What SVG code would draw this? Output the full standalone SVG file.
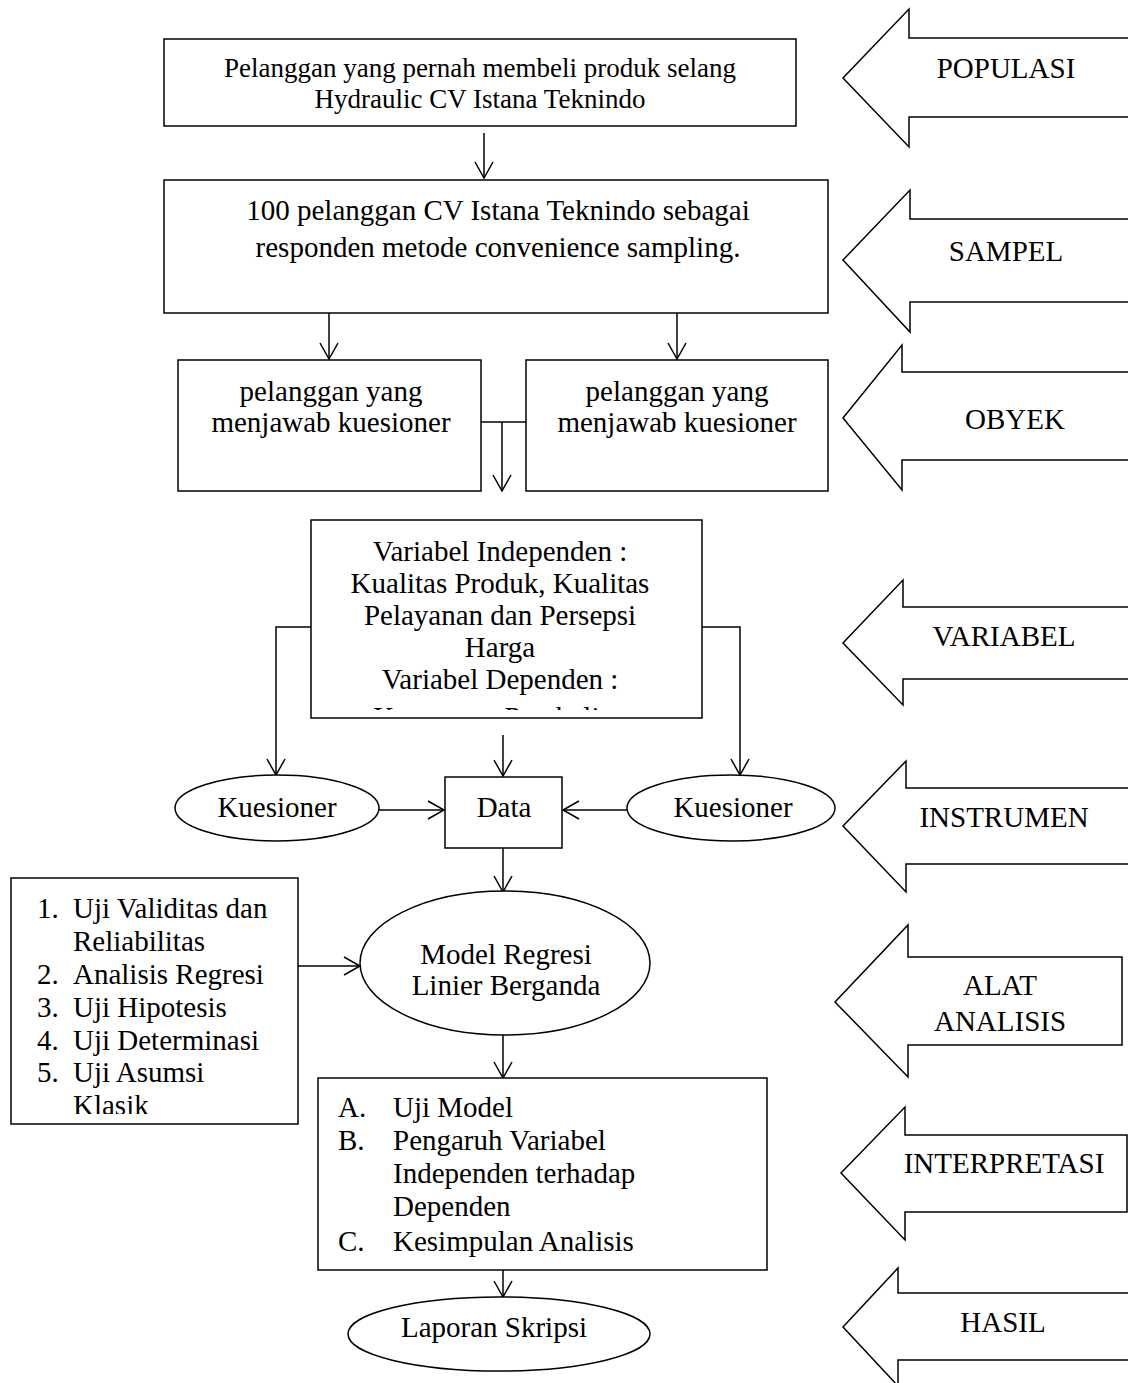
<svg xmlns="http://www.w3.org/2000/svg" width="1128" height="1383" viewBox="0 0 1128 1383">
<style>
.b{fill:#fff;stroke:#000;stroke-width:1.5}
.t{font-family:"Liberation Serif","Times New Roman",serif;font-size:29px;fill:#000}
.c{text-anchor:middle}
.ln{fill:none;stroke:#000;stroke-width:1.5}
.ar{marker-end:url(#ah)}
</style>
<defs>
<marker id="ah" markerUnits="userSpaceOnUse" markerWidth="24" markerHeight="24" viewBox="-20 -12 24 24" refX="0" refY="0" orient="auto" overflow="visible">
<path d="M-16,-9 L0,0 L-16,9" fill="none" stroke="#000" stroke-width="1.5"/>
</marker>
<clipPath id="clipVar"><rect x="312" y="521" width="390" height="189"/></clipPath>
<clipPath id="clipList"><rect x="12" y="879" width="285" height="235"/></clipPath>
</defs>
<rect width="1128" height="1383" fill="#fff"/>

<g id="connectors">
<line class="ln ar" x1="484" y1="133" x2="484" y2="178"/>
<line class="ln ar" x1="329" y1="313" x2="329" y2="359"/>
<line class="ln ar" x1="677" y1="313" x2="677" y2="359"/>
<line class="ln" x1="481" y1="422" x2="526" y2="422"/>
<line class="ln ar" x1="502" y1="422" x2="502" y2="491"/>
<polyline class="ln ar" points="311,627 276,627 276,775"/>
<polyline class="ln ar" points="702,627 740,627 740,775"/>
<line class="ln ar" x1="503" y1="735" x2="503" y2="776"/>
<line class="ln ar" x1="379" y1="810" x2="444" y2="810"/>
<line class="ln ar" x1="627" y1="810" x2="563" y2="810"/>
<line class="ln ar" x1="503" y1="848" x2="503" y2="892"/>
<line class="ln ar" x1="298" y1="966" x2="360" y2="966"/>
<line class="ln ar" x1="503" y1="1035" x2="503" y2="1078"/>
<line class="ln ar" x1="503" y1="1270" x2="503" y2="1297"/>
</g>

<g id="populasi-box">
<rect class="b" x="164" y="39" width="632" height="87"/>
<text class="t c" x="480" y="77" style="font-size:27px">Pelanggan yang pernah membeli produk selang</text>
<text class="t c" x="480" y="108" style="font-size:27px">Hydraulic CV Istana Teknindo</text>
</g>

<g id="sampel-box">
<rect class="b" x="164" y="180" width="664" height="133"/>
<text class="t c" x="498" y="220">100 pelanggan CV Istana Teknindo sebagai</text>
<text class="t c" x="498" y="257">responden metode convenience sampling.</text>
</g>

<g id="obyek-left">
<rect class="b" x="178" y="360" width="303" height="131"/>
<text class="t c" x="331" y="401">pelanggan yang</text>
<text class="t c" x="331" y="432">menjawab kuesioner</text>
</g>

<g id="obyek-right">
<rect class="b" x="526" y="360" width="302" height="131"/>
<text class="t c" x="677" y="401">pelanggan yang</text>
<text class="t c" x="677" y="432">menjawab kuesioner</text>
</g>

<g id="variabel-box">
<rect class="b" x="311" y="520" width="391" height="198"/>
<g clip-path="url(#clipVar)">
<text class="t c" x="500" y="561">Variabel Independen :</text>
<text class="t c" x="500" y="593">Kualitas Produk, Kualitas</text>
<text class="t c" x="500" y="625">Pelayanan dan Persepsi</text>
<text class="t c" x="500" y="657">Harga</text>
<text class="t c" x="500" y="689">Variabel Dependen :</text>
<text class="t c" x="500" y="727">Keputusan Pembelian</text>
</g>
</g>

<g id="kuesioner-left">
<ellipse class="b" cx="277" cy="808" rx="102" ry="33"/>
<text class="t c" x="277" y="817">Kuesioner</text>
</g>

<g id="data-box">
<rect class="b" x="445" y="777" width="117" height="71"/>
<text class="t c" x="504" y="817">Data</text>
</g>

<g id="kuesioner-right">
<ellipse class="b" cx="731" cy="808" rx="104" ry="33"/>
<text class="t c" x="733" y="817">Kuesioner</text>
</g>

<g id="list-box">
<rect class="b" x="11" y="878" width="287" height="246"/>
<g clip-path="url(#clipList)">
<text class="t" x="37" y="918">1.</text><text class="t" x="73" y="918">Uji Validitas dan</text>
<text class="t" x="73" y="951">Reliabilitas</text>
<text class="t" x="37" y="984">2.</text><text class="t" x="73" y="984">Analisis Regresi</text>
<text class="t" x="37" y="1017">3.</text><text class="t" x="73" y="1017">Uji Hipotesis</text>
<text class="t" x="37" y="1050">4.</text><text class="t" x="73" y="1050">Uji Determinasi</text>
<text class="t" x="37" y="1082">5.</text><text class="t" x="73" y="1082">Uji Asumsi</text>
<text class="t" x="73" y="1115">Klasik</text>
</g>
</g>

<g id="model-ellipse">
<ellipse class="b" cx="505" cy="963" rx="145" ry="72"/>
<text class="t c" x="506" y="964">Model Regresi</text>
<text class="t c" x="506" y="995">Linier Berganda</text>
</g>

<g id="interpretasi-box">
<rect class="b" x="318" y="1078" width="449" height="192"/>
<text class="t" x="338" y="1117">A.</text><text class="t" x="393" y="1117">Uji Model</text>
<text class="t" x="338" y="1150">B.</text><text class="t" x="393" y="1150">Pengaruh Variabel</text>
<text class="t" x="393" y="1183">Independen terhadap</text>
<text class="t" x="393" y="1216">Dependen</text>
<text class="t" x="338" y="1251">C.</text><text class="t" x="393" y="1251">Kesimpulan Analisis</text>
</g>

<g id="laporan-ellipse">
<ellipse class="b" cx="499" cy="1334" rx="151" ry="37"/>
<text class="t c" x="494" y="1337">Laporan Skripsi</text>
</g>

<g id="label-populasi">
<path class="b" d="M1140,38 L909,38 L909,9 L843,78 L909,147 L909,117 L1140,117"/>
<text class="t c" x="1006" y="78">POPULASI</text>
</g>
<g id="label-sampel">
<path class="b" d="M1140,219 L910,219 L910,190 L843,260 L910,332 L910,302 L1140,302"/>
<text class="t c" x="1006" y="261">SAMPEL</text>
</g>
<g id="label-obyek">
<path class="b" d="M1140,372 L902,372 L902,345 L843,418 L902,490 L902,460 L1140,460"/>
<text class="t c" x="1015" y="429">OBYEK</text>
</g>
<g id="label-variabel">
<path class="b" d="M1140,607 L903,607 L903,580 L843,643 L903,705 L903,679 L1140,679"/>
<text class="t c" x="1004" y="646">VARIABEL</text>
</g>
<g id="label-instrumen">
<path class="b" d="M1140,788 L906,788 L906,761 L843,826 L906,892 L906,864 L1140,864"/>
<text class="t c" x="1004" y="827">INSTRUMEN</text>
</g>
<g id="label-alat">
<path class="b" d="M1122,957 L908,957 L908,925 L835,1002 L908,1077 L908,1045 L1122,1045 Z"/>
<text class="t c" x="1000" y="995">ALAT</text>
<text class="t c" x="1000" y="1031">ANALISIS</text>
</g>
<g id="label-interpretasi">
<path class="b" d="M1127,1135 L905,1135 L905,1107 L841,1173 L905,1240 L905,1212 L1127,1212 Z"/>
<text class="t c" x="1004" y="1173">INTERPRETASI</text>
</g>
<g id="label-hasil">
<path class="b" d="M1140,1293 L898,1293 L898,1268 L843,1327 L898,1386 L898,1360 L1140,1360"/>
<text class="t c" x="1003" y="1332">HASIL</text>
</g>
</svg>
